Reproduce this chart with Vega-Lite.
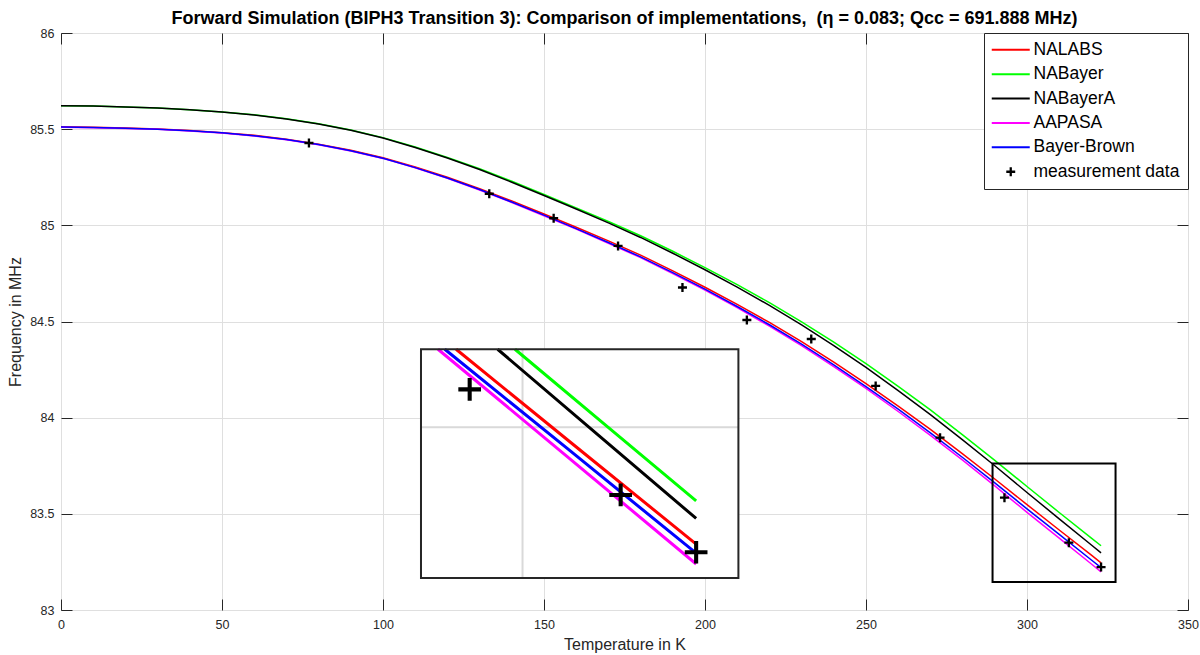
{
  "$schema": "https://vega.github.io/schema/vega-lite/v6.json",
  "width": 1127,
  "height": 577,
  "autosize": {"type": "none"},
  "padding": {"left": 61, "top": 33, "right": 12, "bottom": 45},
  "background": "white",
  "config": {
    "font": "Liberation Sans",
    "view": {"stroke": "#262626", "strokeWidth": 1}
  },
  "title": {
    "text": "Forward Simulation (BIPH3 Transition 3): Comparison of implementations, \u00a0(η = 0.083; Qcc = 691.888 MHz)",
    "fontSize": 18,
    "font": "Liberation Sans",
    "fontWeight": "bold",
    "color": "#000000",
    "anchor": "middle",
    "frame": "group",
    "baseline": "alphabetic",
    "offset": 8,
    "dy": 23
  },
  "datasets": {
    "curves": [
      {"series": "NALABS", "T": 0, "f": 85.512}, {"series": "NALABS", "T": 10, "f": 85.510}, {"series": "NALABS", "T": 20, "f": 85.506}, {"series": "NALABS", "T": 30, "f": 85.501}, {"series": "NALABS", "T": 40, "f": 85.493}, {"series": "NALABS", "T": 50, "f": 85.482}, {"series": "NALABS", "T": 60, "f": 85.468}, {"series": "NALABS", "T": 70, "f": 85.448}, {"series": "NALABS", "T": 80, "f": 85.422}, {"series": "NALABS", "T": 90, "f": 85.391}, {"series": "NALABS", "T": 100, "f": 85.352}, {"series": "NALABS", "T": 110, "f": 85.304}, {"series": "NALABS", "T": 120, "f": 85.250}, {"series": "NALABS", "T": 130, "f": 85.191}, {"series": "NALABS", "T": 140, "f": 85.127}, {"series": "NALABS", "T": 150, "f": 85.059}, {"series": "NALABS", "T": 160, "f": 84.990}, {"series": "NALABS", "T": 170, "f": 84.919}, {"series": "NALABS", "T": 180, "f": 84.845}, {"series": "NALABS", "T": 190, "f": 84.763}, {"series": "NALABS", "T": 200, "f": 84.678}, {"series": "NALABS", "T": 210, "f": 84.589}, {"series": "NALABS", "T": 220, "f": 84.495}, {"series": "NALABS", "T": 230, "f": 84.395}, {"series": "NALABS", "T": 240, "f": 84.289}, {"series": "NALABS", "T": 250, "f": 84.177}, {"series": "NALABS", "T": 260, "f": 84.060}, {"series": "NALABS", "T": 270, "f": 83.939}, {"series": "NALABS", "T": 280, "f": 83.812}, {"series": "NALABS", "T": 290, "f": 83.681}, {"series": "NALABS", "T": 300, "f": 83.548}, {"series": "NALABS", "T": 310, "f": 83.416}, {"series": "NALABS", "T": 320, "f": 83.285}, {"series": "NALABS", "T": 323, "f": 83.245},
      {"series": "NABayer", "T": 0, "f": 85.622}, {"series": "NABayer", "T": 10, "f": 85.620}, {"series": "NABayer", "T": 20, "f": 85.615}, {"series": "NABayer", "T": 30, "f": 85.610}, {"series": "NABayer", "T": 40, "f": 85.601}, {"series": "NABayer", "T": 50, "f": 85.589}, {"series": "NABayer", "T": 60, "f": 85.575}, {"series": "NABayer", "T": 70, "f": 85.554}, {"series": "NABayer", "T": 80, "f": 85.528}, {"series": "NABayer", "T": 90, "f": 85.496}, {"series": "NABayer", "T": 100, "f": 85.456}, {"series": "NABayer", "T": 110, "f": 85.407}, {"series": "NABayer", "T": 120, "f": 85.353}, {"series": "NABayer", "T": 130, "f": 85.294}, {"series": "NABayer", "T": 140, "f": 85.229}, {"series": "NABayer", "T": 150, "f": 85.160}, {"series": "NABayer", "T": 160, "f": 85.091}, {"series": "NABayer", "T": 170, "f": 85.020}, {"series": "NABayer", "T": 180, "f": 84.946}, {"series": "NABayer", "T": 190, "f": 84.865}, {"series": "NABayer", "T": 200, "f": 84.780}, {"series": "NABayer", "T": 210, "f": 84.692}, {"series": "NABayer", "T": 220, "f": 84.598}, {"series": "NABayer", "T": 230, "f": 84.498}, {"series": "NABayer", "T": 240, "f": 84.393}, {"series": "NABayer", "T": 250, "f": 84.281}, {"series": "NABayer", "T": 260, "f": 84.163}, {"series": "NABayer", "T": 270, "f": 84.040}, {"series": "NABayer", "T": 280, "f": 83.911}, {"series": "NABayer", "T": 290, "f": 83.778}, {"series": "NABayer", "T": 300, "f": 83.642}, {"series": "NABayer", "T": 310, "f": 83.507}, {"series": "NABayer", "T": 320, "f": 83.374}, {"series": "NABayer", "T": 323, "f": 83.334},
      {"series": "NABayerA", "T": 0, "f": 85.622}, {"series": "NABayerA", "T": 10, "f": 85.620}, {"series": "NABayerA", "T": 20, "f": 85.615}, {"series": "NABayerA", "T": 30, "f": 85.610}, {"series": "NABayerA", "T": 40, "f": 85.601}, {"series": "NABayerA", "T": 50, "f": 85.589}, {"series": "NABayerA", "T": 60, "f": 85.574}, {"series": "NABayerA", "T": 70, "f": 85.553}, {"series": "NABayerA", "T": 80, "f": 85.527}, {"series": "NABayerA", "T": 90, "f": 85.494}, {"series": "NABayerA", "T": 100, "f": 85.454}, {"series": "NABayerA", "T": 110, "f": 85.405}, {"series": "NABayerA", "T": 120, "f": 85.350}, {"series": "NABayerA", "T": 130, "f": 85.290}, {"series": "NABayerA", "T": 140, "f": 85.224}, {"series": "NABayerA", "T": 150, "f": 85.155}, {"series": "NABayerA", "T": 160, "f": 85.085}, {"series": "NABayerA", "T": 170, "f": 85.013}, {"series": "NABayerA", "T": 180, "f": 84.937}, {"series": "NABayerA", "T": 190, "f": 84.855}, {"series": "NABayerA", "T": 200, "f": 84.769}, {"series": "NABayerA", "T": 210, "f": 84.679}, {"series": "NABayerA", "T": 220, "f": 84.584}, {"series": "NABayerA", "T": 230, "f": 84.482}, {"series": "NABayerA", "T": 240, "f": 84.375}, {"series": "NABayerA", "T": 250, "f": 84.261}, {"series": "NABayerA", "T": 260, "f": 84.141}, {"series": "NABayerA", "T": 270, "f": 84.016}, {"series": "NABayerA", "T": 280, "f": 83.885}, {"series": "NABayerA", "T": 290, "f": 83.750}, {"series": "NABayerA", "T": 300, "f": 83.611}, {"series": "NABayerA", "T": 310, "f": 83.474}, {"series": "NABayerA", "T": 320, "f": 83.338}, {"series": "NABayerA", "T": 323, "f": 83.297},
      {"series": "AAPASA", "T": 0, "f": 85.510}, {"series": "AAPASA", "T": 10, "f": 85.508}, {"series": "AAPASA", "T": 20, "f": 85.504}, {"series": "AAPASA", "T": 30, "f": 85.499}, {"series": "AAPASA", "T": 40, "f": 85.491}, {"series": "AAPASA", "T": 50, "f": 85.480}, {"series": "AAPASA", "T": 60, "f": 85.465}, {"series": "AAPASA", "T": 70, "f": 85.445}, {"series": "AAPASA", "T": 80, "f": 85.419}, {"series": "AAPASA", "T": 90, "f": 85.387}, {"series": "AAPASA", "T": 100, "f": 85.348}, {"series": "AAPASA", "T": 110, "f": 85.299}, {"series": "AAPASA", "T": 120, "f": 85.244}, {"series": "AAPASA", "T": 130, "f": 85.184}, {"series": "AAPASA", "T": 140, "f": 85.119}, {"series": "AAPASA", "T": 150, "f": 85.050}, {"series": "AAPASA", "T": 160, "f": 84.980}, {"series": "AAPASA", "T": 170, "f": 84.907}, {"series": "AAPASA", "T": 180, "f": 84.832}, {"series": "AAPASA", "T": 190, "f": 84.749}, {"series": "AAPASA", "T": 200, "f": 84.663}, {"series": "AAPASA", "T": 210, "f": 84.572}, {"series": "AAPASA", "T": 220, "f": 84.476}, {"series": "AAPASA", "T": 230, "f": 84.374}, {"series": "AAPASA", "T": 240, "f": 84.266}, {"series": "AAPASA", "T": 250, "f": 84.152}, {"series": "AAPASA", "T": 260, "f": 84.032}, {"series": "AAPASA", "T": 270, "f": 83.908}, {"series": "AAPASA", "T": 280, "f": 83.779}, {"series": "AAPASA", "T": 290, "f": 83.645}, {"series": "AAPASA", "T": 300, "f": 83.508}, {"series": "AAPASA", "T": 310, "f": 83.374}, {"series": "AAPASA", "T": 320, "f": 83.239}, {"series": "AAPASA", "T": 323, "f": 83.198},
      {"series": "Bayer-Brown", "T": 0, "f": 85.511}, {"series": "Bayer-Brown", "T": 10, "f": 85.509}, {"series": "Bayer-Brown", "T": 20, "f": 85.505}, {"series": "Bayer-Brown", "T": 30, "f": 85.500}, {"series": "Bayer-Brown", "T": 40, "f": 85.492}, {"series": "Bayer-Brown", "T": 50, "f": 85.481}, {"series": "Bayer-Brown", "T": 60, "f": 85.466}, {"series": "Bayer-Brown", "T": 70, "f": 85.446}, {"series": "Bayer-Brown", "T": 80, "f": 85.420}, {"series": "Bayer-Brown", "T": 90, "f": 85.388}, {"series": "Bayer-Brown", "T": 100, "f": 85.349}, {"series": "Bayer-Brown", "T": 110, "f": 85.300}, {"series": "Bayer-Brown", "T": 120, "f": 85.246}, {"series": "Bayer-Brown", "T": 130, "f": 85.186}, {"series": "Bayer-Brown", "T": 140, "f": 85.121}, {"series": "Bayer-Brown", "T": 150, "f": 85.053}, {"series": "Bayer-Brown", "T": 160, "f": 84.983}, {"series": "Bayer-Brown", "T": 170, "f": 84.911}, {"series": "Bayer-Brown", "T": 180, "f": 84.836}, {"series": "Bayer-Brown", "T": 190, "f": 84.754}, {"series": "Bayer-Brown", "T": 200, "f": 84.668}, {"series": "Bayer-Brown", "T": 210, "f": 84.578}, {"series": "Bayer-Brown", "T": 220, "f": 84.483}, {"series": "Bayer-Brown", "T": 230, "f": 84.382}, {"series": "Bayer-Brown", "T": 240, "f": 84.275}, {"series": "Bayer-Brown", "T": 250, "f": 84.162}, {"series": "Bayer-Brown", "T": 260, "f": 84.044}, {"series": "Bayer-Brown", "T": 270, "f": 83.921}, {"series": "Bayer-Brown", "T": 280, "f": 83.793}, {"series": "Bayer-Brown", "T": 290, "f": 83.661}, {"series": "Bayer-Brown", "T": 300, "f": 83.526}, {"series": "Bayer-Brown", "T": 310, "f": 83.393}, {"series": "Bayer-Brown", "T": 320, "f": 83.260}, {"series": "Bayer-Brown", "T": 323, "f": 83.220}
    ],
    "meas": [
      {"series": "measurement data", "T": 77, "f": 85.428},
      {"series": "measurement data", "T": 133, "f": 85.164},
      {"series": "measurement data", "T": 153, "f": 85.037},
      {"series": "measurement data", "T": 173, "f": 84.893},
      {"series": "measurement data", "T": 193, "f": 84.677},
      {"series": "measurement data", "T": 213, "f": 84.508},
      {"series": "measurement data", "T": 233, "f": 84.409},
      {"series": "measurement data", "T": 253, "f": 84.165},
      {"series": "measurement data", "T": 273, "f": 83.896},
      {"series": "measurement data", "T": 293, "f": 83.584},
      {"series": "measurement data", "T": 313, "f": 83.350},
      {"series": "measurement data", "T": 323, "f": 83.223}
    ],
    "zoombox": [{"x1": 289.3, "x2": 327.5, "y1": 83.145, "y2": 83.762}],
    "insetbox": [{"x1": 286.55, "x2": 328.6, "y1": 83.166, "y2": 83.673}],
    "insetgrid": [
      {"xa": 300, "xb": 300, "ya": 83.166, "yb": 83.673},
      {"xa": 286.55, "xb": 328.6, "ya": 83.5, "yb": 83.5}
    ],
    "insetcurves": [
      {"series": "NALABS", "T": 291.2, "f": 83.673}, {"series": "NALABS", "T": 307, "f": 83.458}, {"series": "NALABS", "T": 323, "f": 83.241},
      {"series": "NABayer", "T": 299.0, "f": 83.673}, {"series": "NABayer", "T": 311, "f": 83.505}, {"series": "NABayer", "T": 323, "f": 83.337},
      {"series": "NABayerA", "T": 296.7, "f": 83.673}, {"series": "NABayerA", "T": 310, "f": 83.483}, {"series": "NABayerA", "T": 323, "f": 83.298},
      {"series": "AAPASA", "T": 288.8, "f": 83.673}, {"series": "AAPASA", "T": 306, "f": 83.434}, {"series": "AAPASA", "T": 323, "f": 83.197},
      {"series": "Bayer-Brown", "T": 289.7, "f": 83.673}, {"series": "Bayer-Brown", "T": 306, "f": 83.452}, {"series": "Bayer-Brown", "T": 323, "f": 83.221}
    ],
    "insetmeas": [
      {"T": 293, "f": 83.584},
      {"T": 313, "f": 83.350},
      {"T": 323, "f": 83.223}
    ]
  },
  "layer": [
    {
      "layer": [
        {
          "data": {"name": "curves"},
          "mark": {"type": "line", "strokeWidth": 1.5},
          "encoding": {
            "x": {
              "field": "T", "type": "quantitative",
              "scale": {"domain": [0, 350], "nice": false, "zero": false},
              "axis": {
                "orient": "bottom", "values": [0, 50, 100, 150, 200, 250, 300, 350], "format": "d",
                "grid": true, "gridColor": "#dfdfdf", "gridWidth": 1, "domain": false,
                "ticks": true, "tickSize": -11, "tickColor": "#262626", "tickWidth": 1,
                "labelFontSize": 12.5, "labelFont": "Liberation Sans", "labelColor": "#262626", "labelPadding": 19,
                "labelFlush": false, "labelOverlap": false,
                "title": "Temperature in K", "titleFontSize": 16, "titleFont": "Liberation Sans", "titleFontWeight": "normal", "titleColor": "#262626", "titlePadding": 6
              }
            },
            "y": {
              "field": "f", "type": "quantitative",
              "scale": {"domain": [83, 86], "nice": false, "zero": false},
              "axis": {
                "orient": "left", "values": [83, 83.5, 84, 84.5, 85, 85.5, 86], "format": "~g",
                "grid": true, "gridColor": "#dfdfdf", "gridWidth": 1, "domain": false,
                "ticks": true, "tickSize": -11, "tickColor": "#262626", "tickWidth": 1,
                "labelFontSize": 12.5, "labelFont": "Liberation Sans", "labelColor": "#262626", "labelPadding": 18,
                "labelFlush": false, "labelOverlap": false,
                "title": "Frequency in MHz", "titleFontSize": 16, "titleFont": "Liberation Sans", "titleFontWeight": "normal", "titleColor": "#262626", "titlePadding": 6
              }
            },
            "color": {
              "field": "series", "type": "nominal",
              "scale": {
                "domain": ["NALABS", "NABayer", "NABayerA", "AAPASA", "Bayer-Brown", "measurement data"],
                "range": ["#ff0000", "#00ff00", "#000000", "#ff00ff", "#0000ff", "#000000"]
              },
              "legend": {
                "orient": "none", "legendX": 923, "legendY": 0, "title": null, "direction": "vertical",
                "fillColor": "white", "strokeColor": "#262626", "padding": 8,
                "symbolType": {"expr": "datum.value === 'measurement data' ? 'M-0.47,-0.12L0.47,-0.12L0.47,0.12L-0.47,0.12Z M-0.12,-0.47L0.12,-0.47L0.12,0.47L-0.12,0.47Z' : 'M-2,0L2,0'"},
                "symbolSize": 361,
                "symbolOffset": 10,
                "symbolStrokeWidth": {"expr": "datum.value === 'measurement data' ? 0 : 2"},
                "symbolFillColor": {"expr": "datum.value === 'measurement data' ? '#000000' : 'transparent'"},
                "labelFontSize": 17.5, "labelFont": "Liberation Sans", "labelColor": "#000000", "labelOffset": 14, "labelLimit": 0,
                "rowPadding": 5.4
              }
            }
          }
        },
        {
          "data": {"name": "meas"},
          "mark": {"type": "point", "shape": "M-1,-0.26L1,-0.26L1,0.26L-1,0.26Z M-0.26,-1L0.26,-1L0.26,1L-0.26,1Z", "filled": true, "size": 81, "opacity": 1, "strokeWidth": 0},
          "encoding": {
            "x": {"field": "T", "type": "quantitative", "axis": null},
            "y": {"field": "f", "type": "quantitative", "axis": null},
            "color": {"field": "series", "type": "nominal"}
          }
        },
        {
          "data": {"name": "zoombox"},
          "mark": {"type": "rect", "fill": "transparent", "stroke": "#000000", "strokeWidth": 2},
          "encoding": {
            "x": {
              "field": "x1", "type": "quantitative",
              "axis": {"orient": "top", "values": [0, 50, 100, 150, 200, 250, 300, 350], "labels": false, "grid": false, "domain": false, "tickSize": -11, "tickColor": "#262626", "tickWidth": 1, "title": null}
            },
            "x2": {"field": "x2"},
            "y": {
              "field": "y1", "type": "quantitative",
              "axis": {"orient": "right", "values": [83, 83.5, 84, 84.5, 85, 85.5, 86], "labels": false, "grid": false, "domain": false, "tickSize": -11, "tickColor": "#262626", "tickWidth": 1, "title": null}
            },
            "y2": {"field": "y2"}
          }
        }
      ],
      "resolve": {"axis": {"x": "independent", "y": "independent"}}
    },
    {
      "layer": [
        {
          "data": {"name": "insetbox"},
          "mark": {"type": "rect", "fill": "#ffffff"},
          "encoding": {
            "x": {"field": "x1", "type": "quantitative", "scale": {"domain": [238.86, 388.16], "nice": false, "zero": false}, "axis": null},
            "x2": {"field": "x2"},
            "y": {"field": "y1", "type": "quantitative", "scale": {"domain": [83.095, 84.374], "nice": false, "zero": false}, "axis": null},
            "y2": {"field": "y2"}
          }
        },
        {
          "data": {"name": "insetgrid"},
          "mark": {"type": "rule", "color": "#d9d9d9", "strokeWidth": 2},
          "encoding": {
            "x": {"field": "xa", "type": "quantitative", "axis": null},
            "x2": {"field": "xb"},
            "y": {"field": "ya", "type": "quantitative", "axis": null},
            "y2": {"field": "yb"}
          }
        },
        {
          "data": {"name": "insetcurves"},
          "mark": {"type": "line", "strokeWidth": 3},
          "encoding": {
            "x": {"field": "T", "type": "quantitative", "axis": null},
            "y": {"field": "f", "type": "quantitative", "axis": null},
            "color": {"field": "series", "type": "nominal", "legend": null}
          }
        },
        {
          "data": {"name": "insetmeas"},
          "mark": {"type": "point", "shape": "M-1,-0.18L1,-0.18L1,0.18L-1,0.18Z M-0.18,-1L0.18,-1L0.18,1L-0.18,1Z", "filled": true, "size": 515, "color": "#000000", "opacity": 1, "strokeWidth": 0},
          "encoding": {
            "x": {"field": "T", "type": "quantitative", "axis": null},
            "y": {"field": "f", "type": "quantitative", "axis": null}
          }
        },
        {
          "data": {"name": "insetbox"},
          "mark": {"type": "rect", "fill": "transparent", "stroke": "#262626", "strokeWidth": 2},
          "encoding": {
            "x": {"field": "x1", "type": "quantitative", "axis": null},
            "x2": {"field": "x2"},
            "y": {"field": "y1", "type": "quantitative", "axis": null},
            "y2": {"field": "y2"}
          }
        }
      ]
    }
  ],
  "resolve": {"scale": {"x": "independent", "y": "independent"}}
}
